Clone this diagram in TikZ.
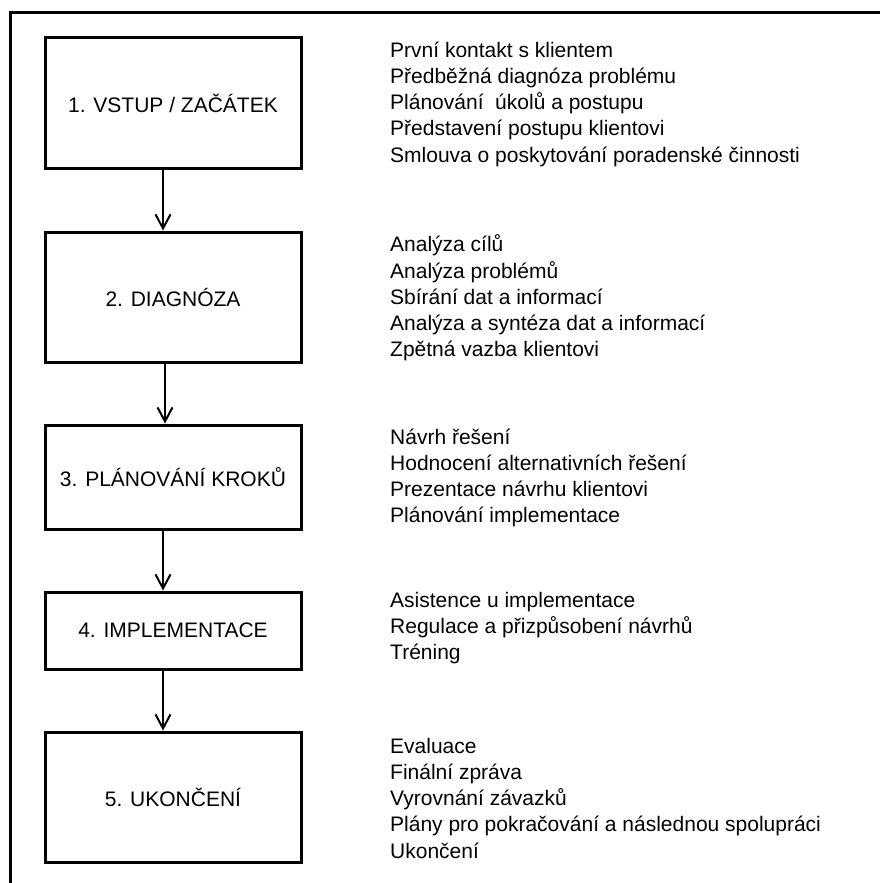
\documentclass[tikz,border=0pt]{standalone}
\usepackage{fontspec}
\setmainfont{Liberation Sans}
\usetikzlibrary{arrows.meta}
\begin{document}
\begin{tikzpicture}[x=1pt,y=-1pt,
  every node/.style={font=\fontsize{21}{26.25}\selectfont},
  stagebox/.style={draw,line width=3pt,minimum width=256pt,inner sep=0pt,anchor=center},
  tasklist/.style={align=left,anchor=west,inner sep=0pt},
  flow/.style={line width=2pt,-{Straight Barb[length=14pt,width=15pt,line width=2pt]}}
]
\useasboundingbox (0,0) rectangle (880,883);
% outer frame (open at right and bottom)
\draw[line width=3pt] (10,883) -- (10,13) -- (880,13);

\node[stagebox,minimum height=130pt] (b1) at (173,103) {1. VSTUP / ZAČÁTEK};
\node[stagebox,minimum height=130pt] (b2) at (173,297) {2. DIAGNÓZA};
\node[stagebox,minimum height=104pt] (b3) at (173,477) {3. PLÁNOVÁNÍ KROKŮ};
\node[stagebox,minimum height=77pt] (b4) at (173,630.5) {4. IMPLEMENTACE};
\node[stagebox,minimum height=130pt] (b5) at (173,797) {5. UKONČENÍ};

\node[tasklist] (t1) at (390,104) {První kontakt s klientem\\Předběžná diagnóza problému\\Plánování~ úkolů a postupu\\Představení postupu klientovi\\Smlouva o poskytování poradenské činnosti};
\node[tasklist] (t2) at (390,298) {Analýza cílů\\Analýza problémů\\Sbírání dat a informací\\Analýza a syntéza dat a informací\\Zpětná vazba klientovi};
\node[tasklist] (t3) at (390,478) {Návrh řešení\\Hodnocení alternativních řešení\\Prezentace návrhu klientovi\\Plánování implementace};
\node[tasklist] (t4) at (390,628) {Asistence u implementace\\Regulace a přizpůsobení návrhů\\Tréning};
\node[tasklist] (t5) at (390,798) {Evaluace\\Finální zpráva\\Vyrovnání závazků\\Plány pro pokračování a následnou spolupráci\\Ukončení};

\draw[flow] ([xshift=-10pt]b1.south) -- ([xshift=-10pt]b2.north);
\draw[flow] ([xshift=-8pt]b2.south) -- ([xshift=-8pt]b3.north);
\draw[flow] ([xshift=-10pt]b3.south) -- ([xshift=-10pt]b4.north);
\draw[flow] ([xshift=-10pt]b4.south) -- ([xshift=-10pt]b5.north);
\end{tikzpicture}
\end{document}
